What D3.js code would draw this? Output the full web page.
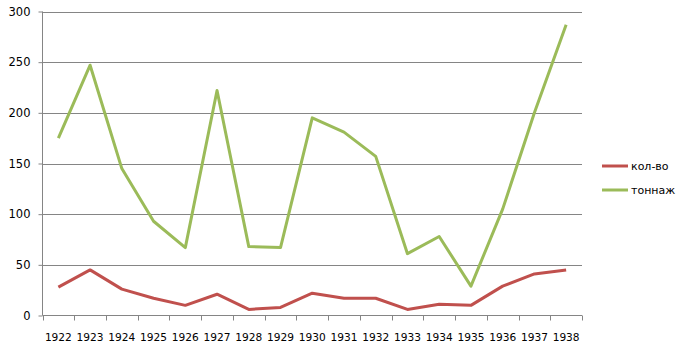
<!DOCTYPE html>
<html lang="ru">
<head>
<meta charset="UTF-8">
<title>кол-во и тоннаж</title>
<script src="https://d3js.org/d3.v7.min.js"></script>
<style>
    body{ margin:0; background:#fff; }
    svg{ display:block; }
    text{ font-family: "DejaVu Sans", Verdana, sans-serif; font-size: 11px; fill:#000; }
</style>
</head>
<body>
<script>
    // data
    const years = ["1922","1923","1924","1925","1926","1927","1928","1929","1930",
                   "1931","1932","1933","1934","1935","1936","1937","1938"]
    const kolvo  = [28, 45, 26, 17, 10, 21, 6, 8, 22, 17, 17, 6, 11, 10, 29, 41, 45]
    const tonnazh = [175, 247, 145, 93, 67, 222, 68, 67, 195, 181, 157, 61, 78, 29, 105, 200, 287]
    const yTicks = [0, 50, 100, 150, 200, 250, 300]

    const series = [
        {name: "кол-во", values: kolvo, color: "#C0504D"},
        {name: "тоннаж", values: tonnazh, color: "#9BBB59"}
    ]

    const width = 677, height = 351
    const m = {left: 42.5, right: 95, top: 11.5, bottom: 35.5}

    const svg = d3.select("body").append("svg")
        .attr("width", width).attr("height", height)

    const x = d3.scaleBand().domain(years).range([m.left, width - m.right])
    const y = d3.scaleLinear().domain([0, 300]).range([height - m.bottom, m.top])

    // gridlines
    svg.append("g").selectAll("line")
        .data(yTicks.slice(1))
        .enter().append("line")
        .attr("x1", m.left).attr("x2", width - m.right)
        .attr("y1", d => Math.round(y(d)) + .5).attr("y2", d => Math.round(y(d)) + .5)
        .attr("stroke", "#858585")

    // y axis
    const gy = svg.append("g")
        .attr("transform", `translate(${m.left},0)`)
        .call(d3.axisLeft(y).tickValues(yTicks).tickSize(4).tickPadding(8))
    gy.selectAll("path, line").attr("stroke", "#858585")
    gy.select(".domain").attr("d", `M0,${m.top}V${y(0)}`)
    gy.selectAll("text").style("font-size", "11.5px")

    // x axis: ticks on the category boundaries
    const gx = svg.append("g")
        .attr("transform", `translate(0,${y(0)})`)
    gx.append("line")
        .attr("x1", m.left).attr("x2", width - m.right)
        .attr("stroke", "#858585")
    const bounds = years.map(d => x(d)).concat([x(years[years.length - 1]) + x.bandwidth()])
    gx.selectAll(".tk").data(bounds).enter().append("line")
        .attr("x1", d => Math.round(d) + .5).attr("x2", d => Math.round(d) + .5)
        .attr("y1", 0).attr("y2", 5)
        .attr("stroke", "#858585")
    gx.selectAll(".lbl").data(years).enter().append("text")
        .attr("x", d => x(d) + x.bandwidth() / 2)
        .attr("y", 25)
        .attr("text-anchor", "middle")
        .style("font-size", "10.6px")
        .text(d => d)

    // lines
    const line = d3.line()
        .x((d, i) => x(years[i]) + x.bandwidth() / 2)
        .y(d => y(d))

    svg.append("g").selectAll("path")
        .data(series)
        .enter().append("path")
        .attr("d", d => line(d.values))
        .attr("fill", "none")
        .attr("stroke", d => d.color)
        .attr("stroke-width", 3)
        .attr("stroke-linejoin", "round")

    // legend
    const lg = svg.append("g").attr("transform", "translate(602,166)")
    const items = lg.selectAll("g").data(series).enter().append("g")
        .attr("transform", (d, i) => `translate(0,${i * 24})`)
    items.append("line")
        .attr("x1", 0).attr("x2", 26)
        .attr("stroke", d => d.color).attr("stroke-width", 3)
    items.append("text")
        .attr("x", 29).attr("y", 4)
        .text(d => d.name)
</script>
</body>
</html>
